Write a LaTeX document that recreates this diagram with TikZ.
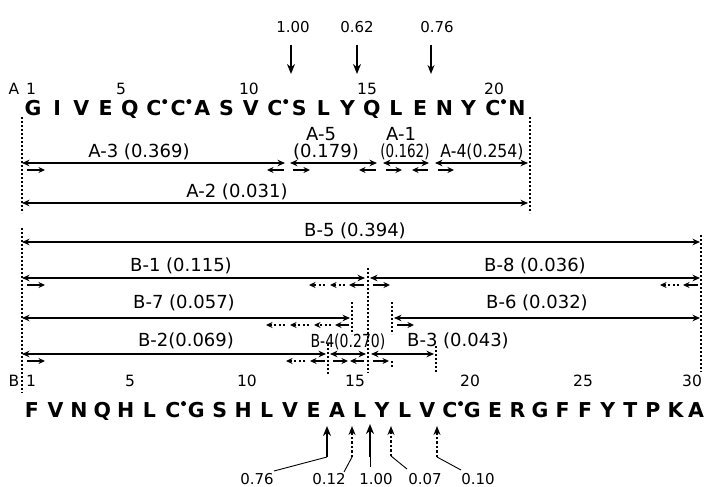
\documentclass[tikz,border=0pt]{standalone}
\usepackage{fontspec}
\usepackage{graphicx}
\setmainfont{DejaVu Sans}
\usetikzlibrary{arrows.meta}
\begin{document}
\begin{tikzpicture}[x=1pt,y=-1pt,
  seqch/.style={font=\bfseries\fontsize{20.5}{20.5}\selectfont, anchor=base, inner sep=0pt},
  posn/.style={font=\fontsize{15.5}{15.5}\selectfont, anchor=base, inner sep=0pt},
  fraglab/.style={font=\fontsize{18}{18}\selectfont, anchor=base, inner sep=0pt},
  yieldlab/.style={font=\fontsize{15}{15}\selectfont, anchor=base, inner sep=0pt},
  frag/.style={line width=1.2pt, {Stealth[length=7.5pt,width=6.5pt]}-{Stealth[length=7.5pt,width=6.5pt]}},
  shortar/.style={line width=1.2pt, -{Stealth[length=6.5pt,width=6pt]}},
  stepar/.style={line width=1.2pt, dash pattern=on 2pt off 2.5pt, -{Stealth[length=6.5pt,width=6pt]}},
  bound/.style={line width=1.4pt, dash pattern=on 2pt off 2pt},
  cutsolid/.style={line width=2pt, -{Stealth[length=10pt,width=8pt]}},
  cutthin/.style={line width=1.3pt, -{Stealth[length=9pt,width=7pt]}},
  cutdot/.style={line width=1.5pt, dash pattern=on 2.5pt off 2pt, -{Stealth[length=9pt,width=7pt]}},
  leader/.style={line width=0.9pt}
]
\useasboundingbox (0,0) rectangle (704,487);

% ---------------- A chain ----------------
\node[yieldlab] (tv1) at (293,33) {1.00};
\node[yieldlab] (tv2) at (357,33) {0.62};
\node[yieldlab] (tv3) at (437,33) {0.76};
\coordinate (c1s) at (291,45); \coordinate (c1e) at (291,74);
\coordinate (c2s) at (357,45); \coordinate (c2e) at (357,74);
\coordinate (c3s) at (431,45); \coordinate (c3e) at (431,74);
\draw[cutsolid] (c1s) -- (c1e);
\draw[cutsolid] (c2s) -- (c2e);
\draw[cutthin] (c3s) -- (c3e);

\node[posn] (lA) at (14,95) {A};
\node[posn] (nA1) at (31,95) {1};
\node[posn] (nA5) at (121,95) {5};
\node[posn] (nA10) at (249,95) {10};
\node[posn] (nA15) at (367,95) {15};
\node[posn] (nA20) at (494,95) {20};

\foreach \l [count=\i] in {G,I,V,E,Q,C,C,A,S,V,C,S,L,Y,Q,L,E,N,Y,C,N}
  \node[seqch] (a\i) at ({33+24.2*(\i-1)},115) {\l};
\foreach \c in {6,7,11,20}
  \fill ([shift={(3,2)}]a\c.north east) circle (2.5pt);

% boundaries
\coordinate (aL1) at (22,117); \coordinate (aL2) at (22,213);
\coordinate (aR1) at (530,117); \coordinate (aR2) at (530,213);
\draw[bound] (aL1) -- (aL2);
\draw[bound] (aR1) -- (aR2);

% A fragment labels
\node[fraglab] (A3t) at (139,157) {A-3 (0.369)};
\node[fraglab] (A5t) at (321,140) {A-5};
\node[fraglab] (A5y) at (326,157) {(0.179)};
\node[fraglab] (A1t) at (401,140) {A-1};
\node[fraglab] (A1y) at (405,157) {\scalebox{0.75}[1]{(0.162)}};
\node[fraglab] (A4t) at (482,157) {\scalebox{0.87}[1]{A-4(0.254)}};
\node[fraglab] (A2t) at (237,197) {A-2 (0.031)};

% A fragments
\coordinate (A3l) at (22,163); \coordinate (A3r) at (285,163);
\coordinate (A5l) at (290,163); \coordinate (A5r) at (377,163);
\coordinate (A1l) at (383,163); \coordinate (A1r) at (429,163);
\coordinate (A4l) at (435,163); \coordinate (A4r) at (528,163);
\coordinate (A2l) at (22,203); \coordinate (A2r) at (528,203);
\draw[frag] (A3l) -- (A3r);
\draw[frag] (A5l) -- (A5r);
\draw[frag] (A1l) -- (A1r);
\draw[frag] (A4l) -- (A4r);
\draw[frag] (A2l) -- (A2r);

% A short end arrows
\coordinate (s1a) at (27,170); \coordinate (s1b) at (45,170);
\coordinate (s2a) at (284,170); \coordinate (s2b) at (267,170);
\coordinate (s3a) at (293,170); \coordinate (s3b) at (310,170);
\coordinate (s4a) at (376,170); \coordinate (s4b) at (359,170);
\coordinate (s5a) at (386,170); \coordinate (s5b) at (402,170);
\coordinate (s6a) at (428,170); \coordinate (s6b) at (412,170);
\coordinate (s7a) at (438,170); \coordinate (s7b) at (454,170);
\draw[shortar] (s1a) -- (s1b);
\draw[shortar] (s2a) -- (s2b);
\draw[shortar] (s3a) -- (s3b);
\draw[shortar] (s4a) -- (s4b);
\draw[shortar] (s5a) -- (s5b);
\draw[shortar] (s6a) -- (s6b);
\draw[shortar] (s7a) -- (s7b);

% ---------------- B chain ----------------
\coordinate (bL1) at (22,228); \coordinate (bL2) at (22,393);
\coordinate (bR1) at (701,235); \coordinate (bR2) at (701,372);
\coordinate (v1a) at (368,268); \coordinate (v1b) at (368,373);
\coordinate (v2a) at (352,302); \coordinate (v2b) at (352,334);
\coordinate (v3a) at (392,302); \coordinate (v3b) at (392,334);
\coordinate (v3c) at (392,361); \coordinate (v3d) at (392,368);
\coordinate (v4a) at (328,344); \coordinate (v4b) at (328,375);
\coordinate (v5a) at (436,346); \coordinate (v5b) at (436,373);
\draw[bound] (bL1) -- (bL2);
\draw[bound] (bR1) -- (bR2);
\draw[bound] (v1a) -- (v1b);
\draw[bound] (v2a) -- (v2b);
\draw[bound] (v3a) -- (v3b);
\draw[bound] (v3c) -- (v3d);
\draw[bound] (v4a) -- (v4b);
\draw[bound] (v5a) -- (v5b);

% B labels
\node[fraglab] (B5t) at (355,236) {B-5 (0.394)};
\node[fraglab] (B1t) at (181,271) {B-1 (0.115)};
\node[fraglab] (B8t) at (535,271) {B-8 (0.036)};
\node[fraglab] (B7t) at (184,308) {B-7 (0.057)};
\node[fraglab] (B6t) at (537,308) {B-6 (0.032)};
\node[fraglab] (B2t) at (186,346) {B-2(0.069)};
\node[fraglab] (B4t) at (348,347) {\scalebox{0.78}[1]{B-4(0.270)}};
\node[fraglab] (B3t) at (458,346) {B-3 (0.043)};

% B fragments
\coordinate (B5l) at (22,242); \coordinate (B5r) at (700,242);
\coordinate (B1l) at (22,278); \coordinate (B1r) at (365,278);
\coordinate (B8l) at (370,278); \coordinate (B8r) at (700,278);
\coordinate (B7l) at (22,318); \coordinate (B7r) at (350,318);
\coordinate (B6l) at (394,318); \coordinate (B6r) at (700,318);
\coordinate (B2l) at (22,354); \coordinate (B2r) at (326,354);
\coordinate (B4l) at (330,354); \coordinate (B4r) at (366,354);
\coordinate (B3l) at (371,354); \coordinate (B3r) at (434,354);
\draw[frag] (B5l) -- (B5r);
\draw[frag] (B1l) -- (B1r);
\draw[frag] (B8l) -- (B8r);
\draw[frag] (B7l) -- (B7r);
\draw[frag] (B6l) -- (B6r);
\draw[frag] (B2l) -- (B2r);
\draw[frag] (B4l) -- (B4r);
\draw[frag] (B3l) -- (B3r);

% B short end arrows
\coordinate (t1a) at (27,285); \coordinate (t1b) at (45,285);
\coordinate (t2a) at (364,285); \coordinate (t2b) at (349,285);
\coordinate (t3a) at (345,285); \coordinate (t3b) at (330,285);
\coordinate (t4a) at (325,285); \coordinate (t4b) at (309,285);
\coordinate (t5a) at (373,285); \coordinate (t5b) at (390,285);
\coordinate (t6a) at (698,285); \coordinate (t6b) at (683,285);
\coordinate (t7a) at (679,285); \coordinate (t7b) at (660,285);
\draw[shortar] (t1a) -- (t1b);
\draw[shortar] (t2a) -- (t2b);
\draw[stepar] (t3a) -- (t3b);
\draw[stepar] (t4a) -- (t4b);
\draw[shortar] (t5a) -- (t5b);
\draw[shortar] (t6a) -- (t6b);
\draw[stepar] (t7a) -- (t7b);

\coordinate (u1a) at (349,325); \coordinate (u1b) at (335,325);
\coordinate (u2a) at (331,325); \coordinate (u2b) at (314,325);
\coordinate (u3a) at (309,325); \coordinate (u3b) at (290,325);
\coordinate (u4a) at (285,325); \coordinate (u4b) at (266,325);
\coordinate (u5a) at (397,325); \coordinate (u5b) at (414,325);
\draw[shortar] (u1a) -- (u1b);
\draw[stepar] (u2a) -- (u2b);
\draw[stepar] (u3a) -- (u3b);
\draw[stepar] (u4a) -- (u4b);
\draw[shortar] (u5a) -- (u5b);

\coordinate (w1a) at (27,361); \coordinate (w1b) at (45,361);
\coordinate (w2a) at (325,361); \coordinate (w2b) at (310,361);
\coordinate (w3a) at (305,361); \coordinate (w3b) at (286,361);
\coordinate (w4a) at (333,361); \coordinate (w4b) at (348,361);
\coordinate (w5a) at (364,361); \coordinate (w5b) at (350,361);
\coordinate (w6a) at (373,361); \coordinate (w6b) at (389,361);
\draw[shortar] (w1a) -- (w1b);
\draw[shortar] (w2a) -- (w2b);
\draw[stepar] (w3a) -- (w3b);
\draw[shortar] (w4a) -- (w4b);
\draw[shortar] (w5a) -- (w5b);
\draw[shortar] (w6a) -- (w6b);

% B numbering
\node[posn] (lB) at (14,386) {B};
\node[posn] (nB1) at (31,386) {1};
\node[posn] (nB5) at (130,386) {5};
\node[posn] (nB10) at (247,386) {10};
\node[posn] (nB15) at (355,386) {15};
\node[posn] (nB20) at (470,386) {20};
\node[posn] (nB25) at (583,386) {25};
\node[posn] (nB30) at (692,386) {30};

\foreach \l/\x [count=\i] in {F/32,V/55.5,N/78.9,Q/102.4,H/125.8,L/149.3,C/172.8,G/196.2,S/219.7,H/243.1,L/266.6,V/290.1,E/313.5,A/337,L/359.6,Y/382.1,L/404.7,V/427.3,C/449.8,G/472.4,E/495,R/517.5,G/540.1,F/562.7,F/585.2,Y/607.8,T/630.4,P/652.9,K/675.5,A/696}
  \node[seqch] (b\i) at (\x,417) {\l};
\foreach \c in {7,19}
  \fill ([shift={(3,2)}]b\c.north east) circle (2.5pt);

% bottom cleavage arrows
\coordinate (d1s) at (327,457); \coordinate (d1e) at (327,426); \coordinate (d1l) at (274,471);
\coordinate (d2s) at (352,457); \coordinate (d2e) at (352,426); \coordinate (d2l) at (344,472);
\coordinate (d3s) at (370,457); \coordinate (d3e) at (370,424); \coordinate (d3l) at (370,467);
\coordinate (d4s) at (391,456); \coordinate (d4e) at (391,426); \coordinate (d4l) at (407,469);
\coordinate (d5s) at (437,457); \coordinate (d5e) at (437,426); \coordinate (d5l) at (461,470);
\draw[cutsolid] (d1s) -- (d1e);
\draw[cutdot] (d2s) -- (d2e);
\draw[cutsolid] (d3s) -- (d3e);
\draw[cutdot] (d4s) -- (d4e);
\draw[cutdot] (d5s) -- (d5e);
\draw[leader] (d1s) -- (d1l);
\draw[leader] (d2s) -- (d2l);
\draw[leader] (d3s) -- (d3l);
\draw[leader] (d4s) -- (d4l);
\draw[leader] (d5s) -- (d5l);
\node[yieldlab] (bv1) at (257,484) {0.76};
\node[yieldlab] (bv2) at (329,484) {0.12};
\node[yieldlab] (bv3) at (376,484) {1.00};
\node[yieldlab] (bv4) at (425,484) {0.07};
\node[yieldlab] (bv5) at (478,484) {0.10};
\end{tikzpicture}
\end{document}
